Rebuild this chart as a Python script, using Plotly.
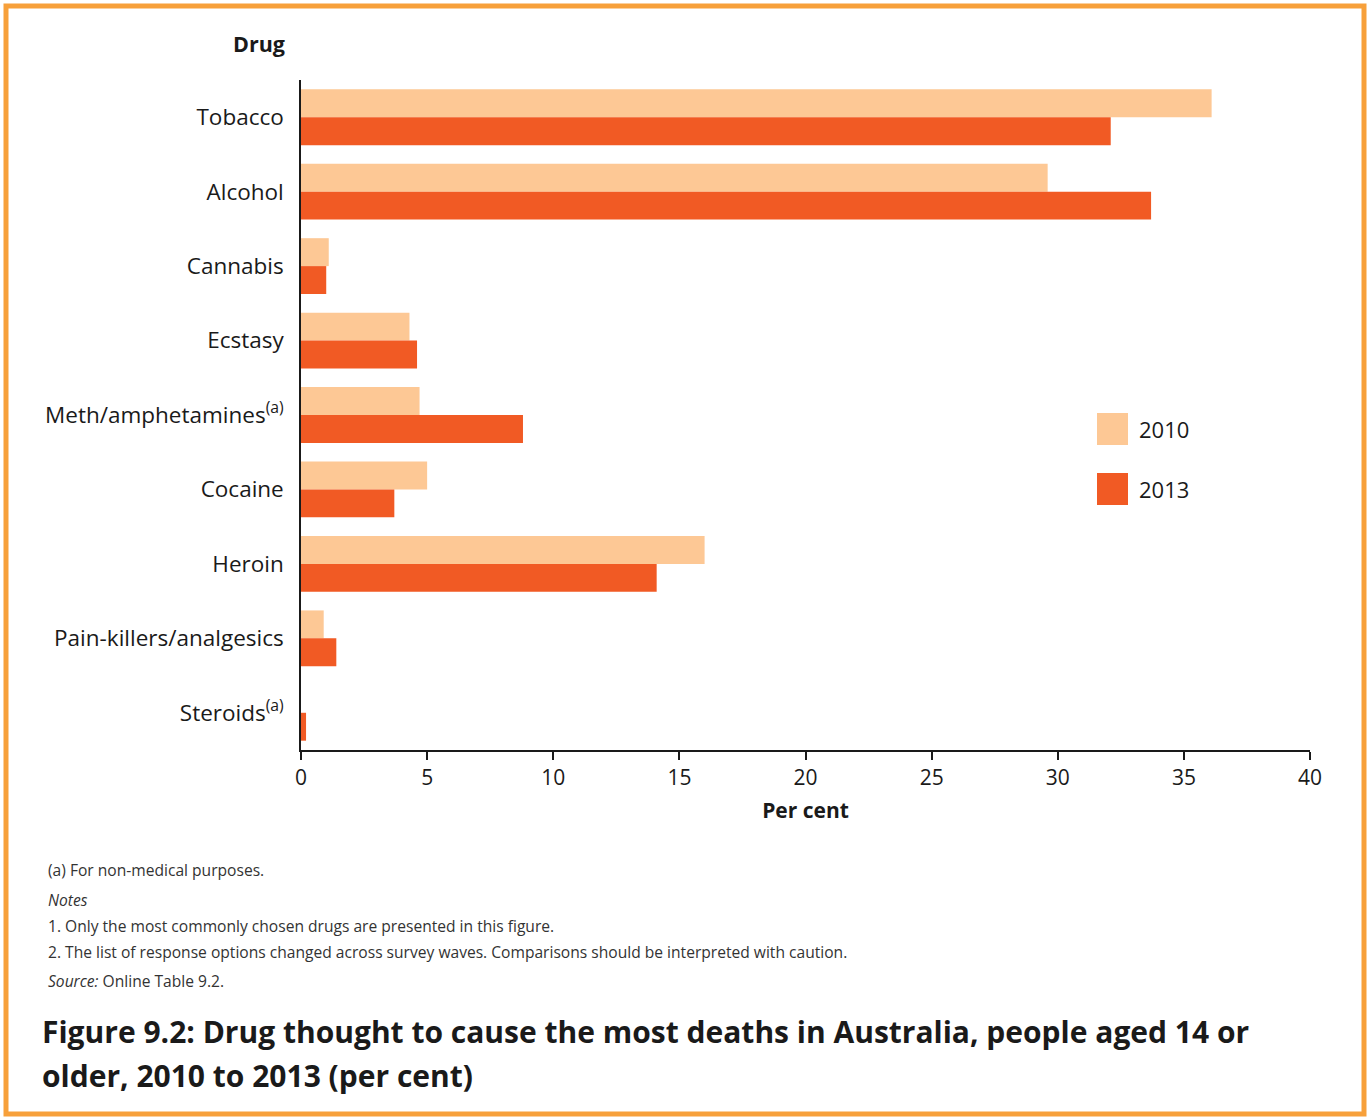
import plotly.graph_objects as go

# Data
drugs = ['Tobacco', 'Alcohol', 'Cannabis', 'Ecstasy', 'Meth/amphetamines<sup>(a)</sup>',
         'Cocaine', 'Heroin', 'Pain-killers/analgesics', 'Steroids<sup>(a)</sup>']
years = ['2010', '2013']
pct_2010 = [36.1, 29.6, 1.1, 4.3, 4.7, 5.0, 16.0, 0.9, 0.0]
pct_2013 = [32.1, 33.7, 1.0, 4.6, 8.8, 3.7, 14.1, 1.4, 0.2]
x_ticks = [0, 5, 10, 15, 20, 25, 30, 35, 40]

notes = ['(a) For non-medical purposes.',
         '<i>Notes</i>',
         '1. Only the most commonly chosen drugs are presented in this figure.',
         '2. The list of response options changed across survey waves. Comparisons should be interpreted with caution.',
         '<i>Source:</i> Online Table 9.2.']
title_lines = ['Figure 9.2: Drug thought to cause the most deaths in Australia, people aged 14 or',
               'older, 2010 to 2013 (per cent)']

colors = ['#FDC895', '#F15A24']
W, H = 1369, 1119
L, R, T, B = 301, 1310, 80, 750
FONT = 'Open Sans'


def px(x):
    return (x - L) / (R - L)


def py(y):
    return (B - y) / (B - T)


fig = go.Figure()
for name, vals, c in zip(years, [pct_2010, pct_2013], colors):
    fig.add_trace(go.Bar(y=drugs, x=vals, name=name, orientation='h',
                         marker=dict(color=c, line=dict(width=0)), showlegend=False))

fig.update_layout(
    width=W, height=H,
    margin=dict(l=L, r=W - R, t=T, b=H - B),
    paper_bgcolor='white', plot_bgcolor='white',
    barmode='group', bargap=0.25, bargroupgap=0,
    font=dict(family=FONT, size=21, color='#1a1a1a'),
    xaxis=dict(range=[0, 40], tickvals=x_ticks, showgrid=False, zeroline=False,
               showline=True, linecolor='#1a1a1a', linewidth=1.5,
               ticks='outside', ticklen=8, tickcolor='#1a1a1a', tickwidth=1.5,
               title=dict(text='<b>Per cent</b>', font=dict(size=21), standoff=13)),
    yaxis=dict(autorange='reversed', showgrid=False, zeroline=False,
               showline=True, linecolor='#1a1a1a', linewidth=1.5,
               ticks='', ticklabelstandoff=11, tickfont=dict(size=22.5)),
)

# Y axis heading
fig.add_annotation(text='<b>Drug</b>', xref='paper', yref='paper', x=px(287), y=py(43),
                   xanchor='right', yanchor='middle', showarrow=False, font=dict(size=21.5))

# custom legend
for i, (name, c) in enumerate(zip(years, colors)):
    yc = 429 + 60 * i
    fig.add_shape(type='rect', xref='paper', yref='paper', x0=px(1097), x1=px(1128),
                  y0=py(yc - 16), y1=py(yc + 16), fillcolor=c, line=dict(width=0))
    fig.add_annotation(text=name, xref='paper', yref='paper', x=px(1137), y=py(yc),
                       xanchor='left', yanchor='middle', showarrow=False, font=dict(size=22))

# notes
for txt, yy in zip(notes, [870, 900, 926, 952, 981]):
    fig.add_annotation(text=txt, xref='paper', yref='paper', x=px(46), y=py(yy),
                       xanchor='left', yanchor='middle', showarrow=False,
                       font=dict(size=15.6, color='#333333'), align='left')

# figure caption
for txt, yy in zip(title_lines, [1031, 1075]):
    fig.add_annotation(text='<b>' + txt + '</b>', xref='paper', yref='paper', x=px(40), y=py(yy),
                       xanchor='left', yanchor='middle', showarrow=False, align='left',
                       font=dict(family='Open Sans', size=30, color='#1a1a1a'))

# orange frame
fig.add_shape(type='rect', xref='paper', yref='paper', x0=px(6), x1=px(1364), y0=py(6), y1=py(1114),
              line=dict(color='#F7A03A', width=5), fillcolor='rgba(0,0,0,0)', layer='below')

fig.write_html('out.html', config={'displayModeBar': False},
               post_script="document.body.style.margin='0';")
